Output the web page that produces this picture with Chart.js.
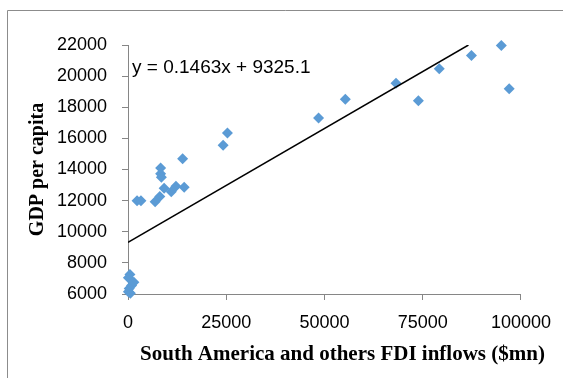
<!DOCTYPE html>
<html>
<head>
<meta charset="utf-8">
<script src="https://cdn.jsdelivr.net/npm/chart.js@4.4.0/dist/chart.umd.min.js"></script>
<style>
  html, body { margin: 0; padding: 0; background: #fff; }
  #wrap { position: relative; width: 563px; height: 378px; }
</style>
</head>
<body>
<div id="wrap"><canvas id="fdiChart" width="563" height="378"></canvas></div>
<script>
// FDI inflows ($mn) and GDP per capita, one entry per observation
const fdiInflows = [
  95000, 97000, 87400, 79200, 68200, 73900, 55300, 48500,
  25300, 24200, 13900, 8300, 8300, 8500, 14300, 12200,
  11000, 9200, 8100, 6900, 2300, 3300,
  500, 100, 1500, 900, 300, 100, 600
];
const gdpPerCapita = [
  21960, 19190, 21330, 20480, 19550, 18410, 18520, 17310,
  16340, 15560, 14690, 14100, 13720, 13500, 12860, 12920,
  12570, 12790, 12270, 11920, 11990, 11990,
  7250, 7050, 6750, 6550, 6350, 6150, 6050
];

// linear trend fitted to the points
const trendSlope = 0.1463;
const trendIntercept = 9325.1;
const trendLabel = "y = 0.1463x + 9325.1";

const xTicks = [0, 25000, 50000, 75000, 100000];
const yTicks = [6000, 8000, 10000, 12000, 14000, 16000, 18000, 20000, 22000];

const xTitle = "South America and others FDI inflows ($mn)";
const yTitle = "GDP per capita";

const points = fdiInflows.map((x, i) => ({ x: x, y: gdpPerCapita[i] }));
const yMax = yTicks[yTicks.length - 1];
const trendEnd = (yMax - trendIntercept) / trendSlope;
const trendPoints = [
  { x: 0, y: trendIntercept },
  { x: trendEnd, y: trendIntercept + trendSlope * trendEnd }
];

const axisColor = "#868686";

// white background plus the outer frame lines
const framePlugin = {
  id: "frame",
  beforeDraw(chart) {
    const ctx = chart.ctx;
    ctx.save();
    ctx.fillStyle = "#fff";
    ctx.fillRect(0, 0, chart.width, chart.height);
    ctx.strokeStyle = "#8c8c8c";
    ctx.lineWidth = 1;
    ctx.beginPath();
    ctx.moveTo(7.5, chart.height);
    ctx.lineTo(7.5, 10.5);
    ctx.lineTo(chart.width, 10.5);
    ctx.stroke();
    ctx.restore();
  }
};

// equation label and the x axis title
const textPlugin = {
  id: "texts",
  afterDraw(chart) {
    const ctx = chart.ctx;
    const area = chart.chartArea;
    ctx.save();
    ctx.fillStyle = "#000";
    ctx.textBaseline = "middle";
    ctx.textAlign = "left";
    ctx.font = "19px 'Liberation Sans', Arial, sans-serif";
    ctx.fillText(trendLabel, area.left + 4, area.top + 23);
    ctx.textAlign = "center";
    ctx.font = "bold 21px 'Liberation Serif', 'Times New Roman', serif";
    ctx.fillText(xTitle, (area.left + area.right) / 2 + 18, 355);
    ctx.restore();
  }
};

const tickFont = { family: "'Liberation Sans', Arial, sans-serif", size: 18 };

const ctx = document.getElementById("fdiChart").getContext("2d");
new Chart(ctx, {
  type: "scatter",
  data: {
    datasets: [
      {
        label: "Linear trend",
        type: "line",
        data: trendPoints,
        borderColor: "#000",
        borderWidth: 1.5,
        pointRadius: 0,
        fill: false,
        order: 0
      },
      {
        label: "GDP per capita",
        data: points,
        pointStyle: "rectRot",
        pointRadius: 5.5,
        pointBorderWidth: 0,
        backgroundColor: "#5B9BD5",
        borderColor: "#5B9BD5",
        clip: false,
        order: 1
      }
    ]
  },
  options: {
    responsive: false,
    animation: false,
    layout: { padding: { top: 45, right: 41, left: 0, bottom: 0 } },
    plugins: {
      legend: { display: false },
      tooltip: { enabled: false }
    },
    scales: {
      x: {
        type: "linear",
        min: xTicks[0],
        max: xTicks[xTicks.length - 1],
        afterBuildTicks: (scale) => { scale.ticks = xTicks.map(v => ({ value: v })); },
        afterFit: (scale) => { scale.height = 84; },
        grid: { drawOnChartArea: false, drawTicks: true, tickLength: 6, color: axisColor },
        border: { display: true, color: axisColor },
        ticks: { color: "#000", font: tickFont, padding: 12, maxRotation: 0, callback: (v) => String(v) }
      },
      y: {
        type: "linear",
        min: yTicks[0],
        max: yMax,
        afterBuildTicks: (scale) => { scale.ticks = yTicks.map(v => ({ value: v })); },
        afterFit: (scale) => { scale.width = 128; },
        grid: { drawOnChartArea: false, drawTicks: true, tickLength: 6, color: axisColor },
        border: { display: true, color: axisColor },
        ticks: { color: "#000", font: tickFont, padding: 15, callback: (v) => String(v) },
        title: {
          display: true,
          text: yTitle,
          color: "#000",
          font: { family: "'Liberation Serif', 'Times New Roman', serif", size: 20, weight: "bold" },
          padding: { top: 26, bottom: 0 }
        }
      }
    }
  },
  plugins: [framePlugin, textPlugin]
});
</script>
</body>
</html>
